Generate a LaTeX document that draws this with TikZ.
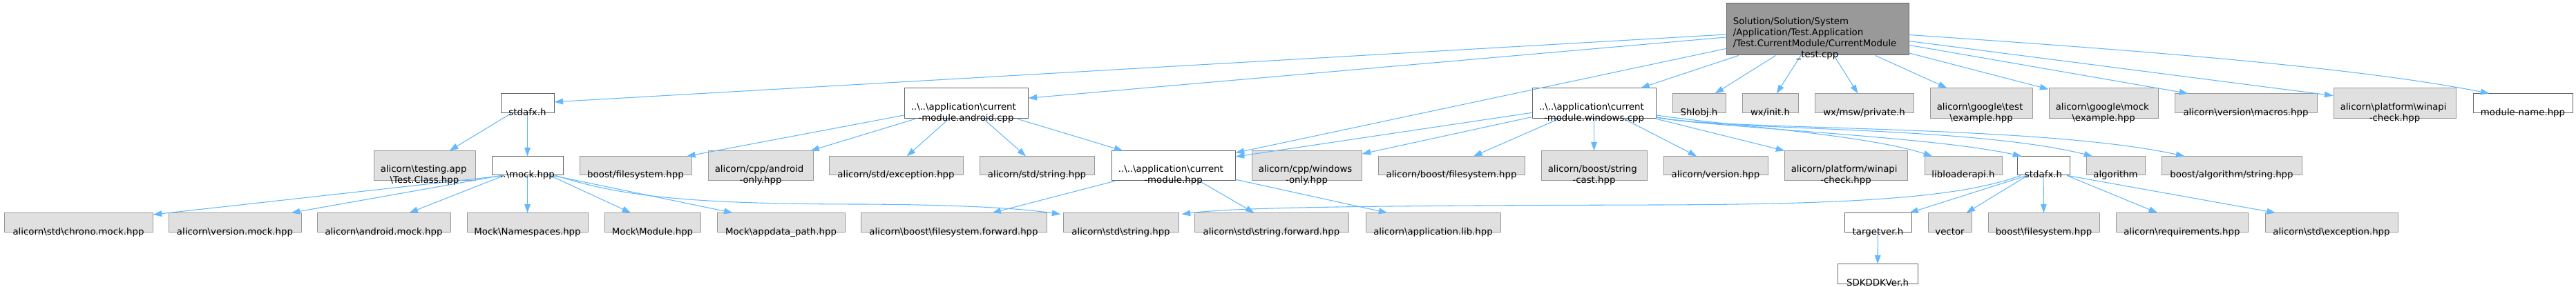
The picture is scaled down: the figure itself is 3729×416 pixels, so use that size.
\documentclass[tikz,border=0pt]{standalone}
\usepackage{fontspec}
\setmainfont{DejaVu Sans}
\usetikzlibrary{arrows.meta,calc,fit}
\definecolor{edgec}{HTML}{63B8FF}
\definecolor{grayfill}{HTML}{E0E0E0}
\definecolor{grayline}{HTML}{999999}
\definecolor{darkline}{HTML}{666666}
\definecolor{mainfill}{HTML}{999999}
\newcommand\Bk{\textbackslash}
\newcommand\mkbox[6]{\node[#2,fit={(#3,#4) (#5,#6)}] (#1) {};}
\newcommand\oneline[2]{\node[lbl,anchor=base] (#1-t) at ($(#1.south)+(0,3)$) {#2};}
\newcommand\twoline[3]{\node[lbl,anchor=base west] (#1-ta) at ($(#1.south west)+(10,-13)$) {#2};\node[lbl,anchor=base] (#1-tb) at ($(#1.south)+(0,3)$) {#3};}
\tikzset{
  gbox/.style={rectangle,draw=grayline,fill=grayfill,line width=0.75pt,inner sep=0pt},
  wbox/.style={rectangle,draw=darkline,fill=white,line width=0.75pt,inner sep=0pt},
  mbox/.style={rectangle,draw=darkline,fill=mainfill,line width=0.75pt,inner sep=0pt},
  lbl/.style={inner sep=0pt,font=\fontsize{10}{12}\selectfont},
  edge/.style={draw=edgec,line width=0.8pt,-{Triangle[length=9.5pt,width=6.5pt]}}
}
\begin{document}
\begin{tikzpicture}[x=0.75pt,y=-0.75pt]
\useasboundingbox (0,0) rectangle (3729,416);
% row 1
\mkbox{main}{mbox}{2499}{5}{2763}{80}
% row 2
\mkbox{sfa}{wbox}{725}{136}{802}{164}
\mkbox{andr}{wbox}{1309}{128}{1488}{172}
\mkbox{win}{wbox}{2218}{128}{2397}{172}
\mkbox{shl}{gbox}{2421}{136}{2498}{164}
\mkbox{wxi}{gbox}{2522}{136}{2603}{164}
\mkbox{wxm}{gbox}{2627}{136}{2770}{164}
\mkbox{gte}{gbox}{2794}{128}{2942}{172}
\mkbox{gmo}{gbox}{2966}{128}{3124}{172}
\mkbox{vma}{gbox}{3148}{136}{3354}{164}
\mkbox{pwi}{gbox}{3378}{128}{3555}{172}
\mkbox{mna}{wbox}{3580}{136}{3724}{164}
% row 3
\mkbox{tst}{gbox}{541}{219}{688}{262}
\mkbox{mck}{wbox}{712}{227}{815}{254}
\mkbox{bfs}{gbox}{839}{227}{1001}{254}
\mkbox{cpa}{gbox}{1025}{219}{1177}{262}
\mkbox{sex}{gbox}{1200}{227}{1394}{254}
\mkbox{sst}{gbox}{1418}{227}{1584}{254}
\mkbox{mod}{wbox}{1609}{219}{1788}{262}
\mkbox{cpw}{gbox}{1812}{219}{1971}{262}
\mkbox{abf}{gbox}{1995}{227}{2207}{254}
\mkbox{bsc}{gbox}{2231}{219}{2384}{262}
\mkbox{ave}{gbox}{2408}{227}{2559}{254}
\mkbox{apw}{gbox}{2583}{219}{2761}{262}
\mkbox{lib}{gbox}{2786}{227}{2898}{254}
\mkbox{sfb}{wbox}{2920}{227}{2996}{254}
\mkbox{alg}{gbox}{3020}{227}{3105}{254}
\mkbox{bas}{gbox}{3129}{227}{3332}{254}
% row 4
\mkbox{chr}{gbox}{6}{309}{221}{337}
\mkbox{vmk}{gbox}{244}{309}{436}{337}
\mkbox{amk}{gbox}{459}{309}{652}{337}
\mkbox{mns}{gbox}{676}{309}{851}{337}
\mkbox{mmo}{gbox}{875}{309}{1014}{337}
\mkbox{map}{gbox}{1038}{309}{1223}{337}
\mkbox{bff}{gbox}{1246}{309}{1515}{337}
\mkbox{sts}{gbox}{1539}{309}{1706}{337}
\mkbox{stf}{gbox}{1729}{309}{1952}{337}
\mkbox{alb}{gbox}{1977}{309}{2172}{337}
\mkbox{tgv}{wbox}{2670}{309}{2767}{337}
\mkbox{vec}{gbox}{2791}{309}{2854}{337}
\mkbox{bfb}{gbox}{2878}{309}{3039}{337}
\mkbox{req}{gbox}{3063}{309}{3254}{337}
\mkbox{sxb}{gbox}{3279}{309}{3471}{337}
% row 5
\mkbox{sdk}{wbox}{2660}{383}{2776}{411}
% edges from main
\draw[edge] (main) -- (sfa);
\draw[edge] (main) -- (andr);
\draw[edge] (main) -- (mod);
\draw[edge] (main) -- (win);
\draw[edge] (main) -- (shl);
\draw[edge] (main) -- (wxi);
\draw[edge] (main) -- (wxm);
\draw[edge] (main) -- (gte);
\draw[edge] (main) -- (gmo);
\draw[edge] (main) -- (vma);
\draw[edge] (main) -- (pwi);
\draw[edge] ($(main.north east)+(0,46)$) .. controls (3050,70) and (3400,95) .. ($(mna.north west)+(24,0)$);
% stdafx.h (left)
\draw[edge] (sfa) -- (tst);
\draw[edge] (sfa) -- (mck);
% mock.hpp
\draw[edge] ($(mck.south)+(-34,0)$) -- (chr);
\draw[edge] ($(mck.south)+(-38,0)$) -- (vmk);
\draw[edge] ($(mck.south)+(-34,0)$) -- (amk);
\draw[edge] (mck) -- (mns);
\draw[edge] ($(mck.south)+(33,0)$) -- (mmo);
\draw[edge] ($(mck.south)+(37,0)$) -- (map);
\draw[edge] ($(mck.south)+(41,0)$) .. controls (900,285) and (1000,296) .. (1250,296) .. controls (1420,297) and (1490,304) .. ($(sts.north west)+(-3,2)$);
% android.cpp
\draw[edge] (andr) -- (bfs);
\draw[edge] (andr) -- (cpa);
\draw[edge] (andr) -- (sex);
\draw[edge] (andr) -- (sst);
\draw[edge] (andr) -- (mod);
% module.hpp
\draw[edge] (mod) -- (bff);
\draw[edge] (mod) -- (stf);
\draw[edge] (mod) -- (alb);
% windows.cpp
\draw[edge] (win) -- (mod);
\draw[edge] (win) -- (cpw);
\draw[edge] (win) -- (abf);
\draw[edge] (win) -- (bsc);
\draw[edge] (win) -- (ave);
\draw[edge] (win) -- (apw);
\draw[edge] ($(win.east)+(0,17)$) .. controls (2500,182) and (2700,195) .. ($(lib.north west)+(12,0)$);
\draw[edge] ($(win.east)+(0,20)$) .. controls (2480,185) and (2800,198) .. ($(sfb.north west)+(7,0)$);
\draw[edge] ($(win.east)+(0,20)$) .. controls (2500,190) and (2850,182) .. ($(alg.north west)+(10,0)$);
\draw[edge] ($(win.east)+(0,20)$) .. controls (2500,190) and (2950,180) .. ($(bas.north west)+(34,0)$);
% stdafx.h (right)
\draw[edge] ($(sfb.south)+(-24,0)$) -- (tgv);
\draw[edge] (sfb) -- (vec);
\draw[edge] (sfb) -- (bfb);
\draw[edge] (sfb) -- (req);
\draw[edge] ($(sfb.south)+(35,0)$) -- (sxb);
\draw[edge] ($(sfb.south)+(-33,0)$) .. controls (2840,285) and (2700,296) .. (2400,297) .. controls (2000,298) and (1790,300) .. ($(sts.north east)+(4,2)$);
\draw[edge] (tgv) -- (sdk);
% texts
\node[lbl,anchor=base west] (main-ta) at ($(main.south west)+(10,-45)$) {Solution/Solution/System};
\node[lbl,anchor=base west] (main-tb) at ($(main.south west)+(10,-29)$) {/Application/Test.Application};
\node[lbl,anchor=base west] (main-tc) at ($(main.south west)+(10,-13)$) {/Test.CurrentModule/CurrentModule};
\node[lbl,anchor=base] (main-td) at ($(main.south)+(0,3)$) {\_test.cpp};
\oneline{sfa}{stdafx.h}
\twoline{andr}{..\Bk..\Bk application\Bk current}{-module.android.cpp}
\twoline{win}{..\Bk..\Bk application\Bk current}{-module.windows.cpp}
\oneline{shl}{Shlobj.h}
\oneline{wxi}{wx/init.h}
\oneline{wxm}{wx/msw/private.h}
\twoline{gte}{alicorn\Bk google\Bk test}{\Bk example.hpp}
\twoline{gmo}{alicorn\Bk google\Bk mock}{\Bk example.hpp}
\oneline{vma}{alicorn\Bk version\Bk macros.hpp}
\twoline{pwi}{alicorn\Bk platform\Bk winapi}{-check.hpp}
\oneline{mna}{module-name.hpp}
\twoline{tst}{alicorn\Bk testing.app}{\Bk Test.Class.hpp}
\oneline{mck}{..\Bk mock.hpp}
\oneline{bfs}{boost/filesystem.hpp}
\twoline{cpa}{alicorn/cpp/android}{-only.hpp}
\oneline{sex}{alicorn/std/exception.hpp}
\oneline{sst}{alicorn/std/string.hpp}
\twoline{mod}{..\Bk..\Bk application\Bk current}{-module.hpp}
\twoline{cpw}{alicorn/cpp/windows}{-only.hpp}
\oneline{abf}{alicorn/boost/filesystem.hpp}
\twoline{bsc}{alicorn/boost/string}{-cast.hpp}
\oneline{ave}{alicorn/version.hpp}
\twoline{apw}{alicorn/platform/winapi}{-check.hpp}
\oneline{lib}{libloaderapi.h}
\oneline{sfb}{stdafx.h}
\oneline{alg}{algorithm}
\oneline{bas}{boost/algorithm/string.hpp}
\oneline{chr}{alicorn\Bk std\Bk chrono.mock.hpp}
\oneline{vmk}{alicorn\Bk version.mock.hpp}
\oneline{amk}{alicorn\Bk android.mock.hpp}
\oneline{mns}{Mock\Bk Namespaces.hpp}
\oneline{mmo}{Mock\Bk Module.hpp}
\oneline{map}{Mock\Bk appdata\_path.hpp}
\oneline{bff}{alicorn\Bk boost\Bk filesystem.forward.hpp}
\oneline{sts}{alicorn\Bk std\Bk string.hpp}
\oneline{stf}{alicorn\Bk std\Bk string.forward.hpp}
\oneline{alb}{alicorn\Bk application.lib.hpp}
\oneline{tgv}{targetver.h}
\oneline{vec}{vector}
\oneline{bfb}{boost\Bk filesystem.hpp}
\oneline{req}{alicorn\Bk requirements.hpp}
\oneline{sxb}{alicorn\Bk std\Bk exception.hpp}
\oneline{sdk}{SDKDDKVer.h}
\end{tikzpicture}
\end{document}
